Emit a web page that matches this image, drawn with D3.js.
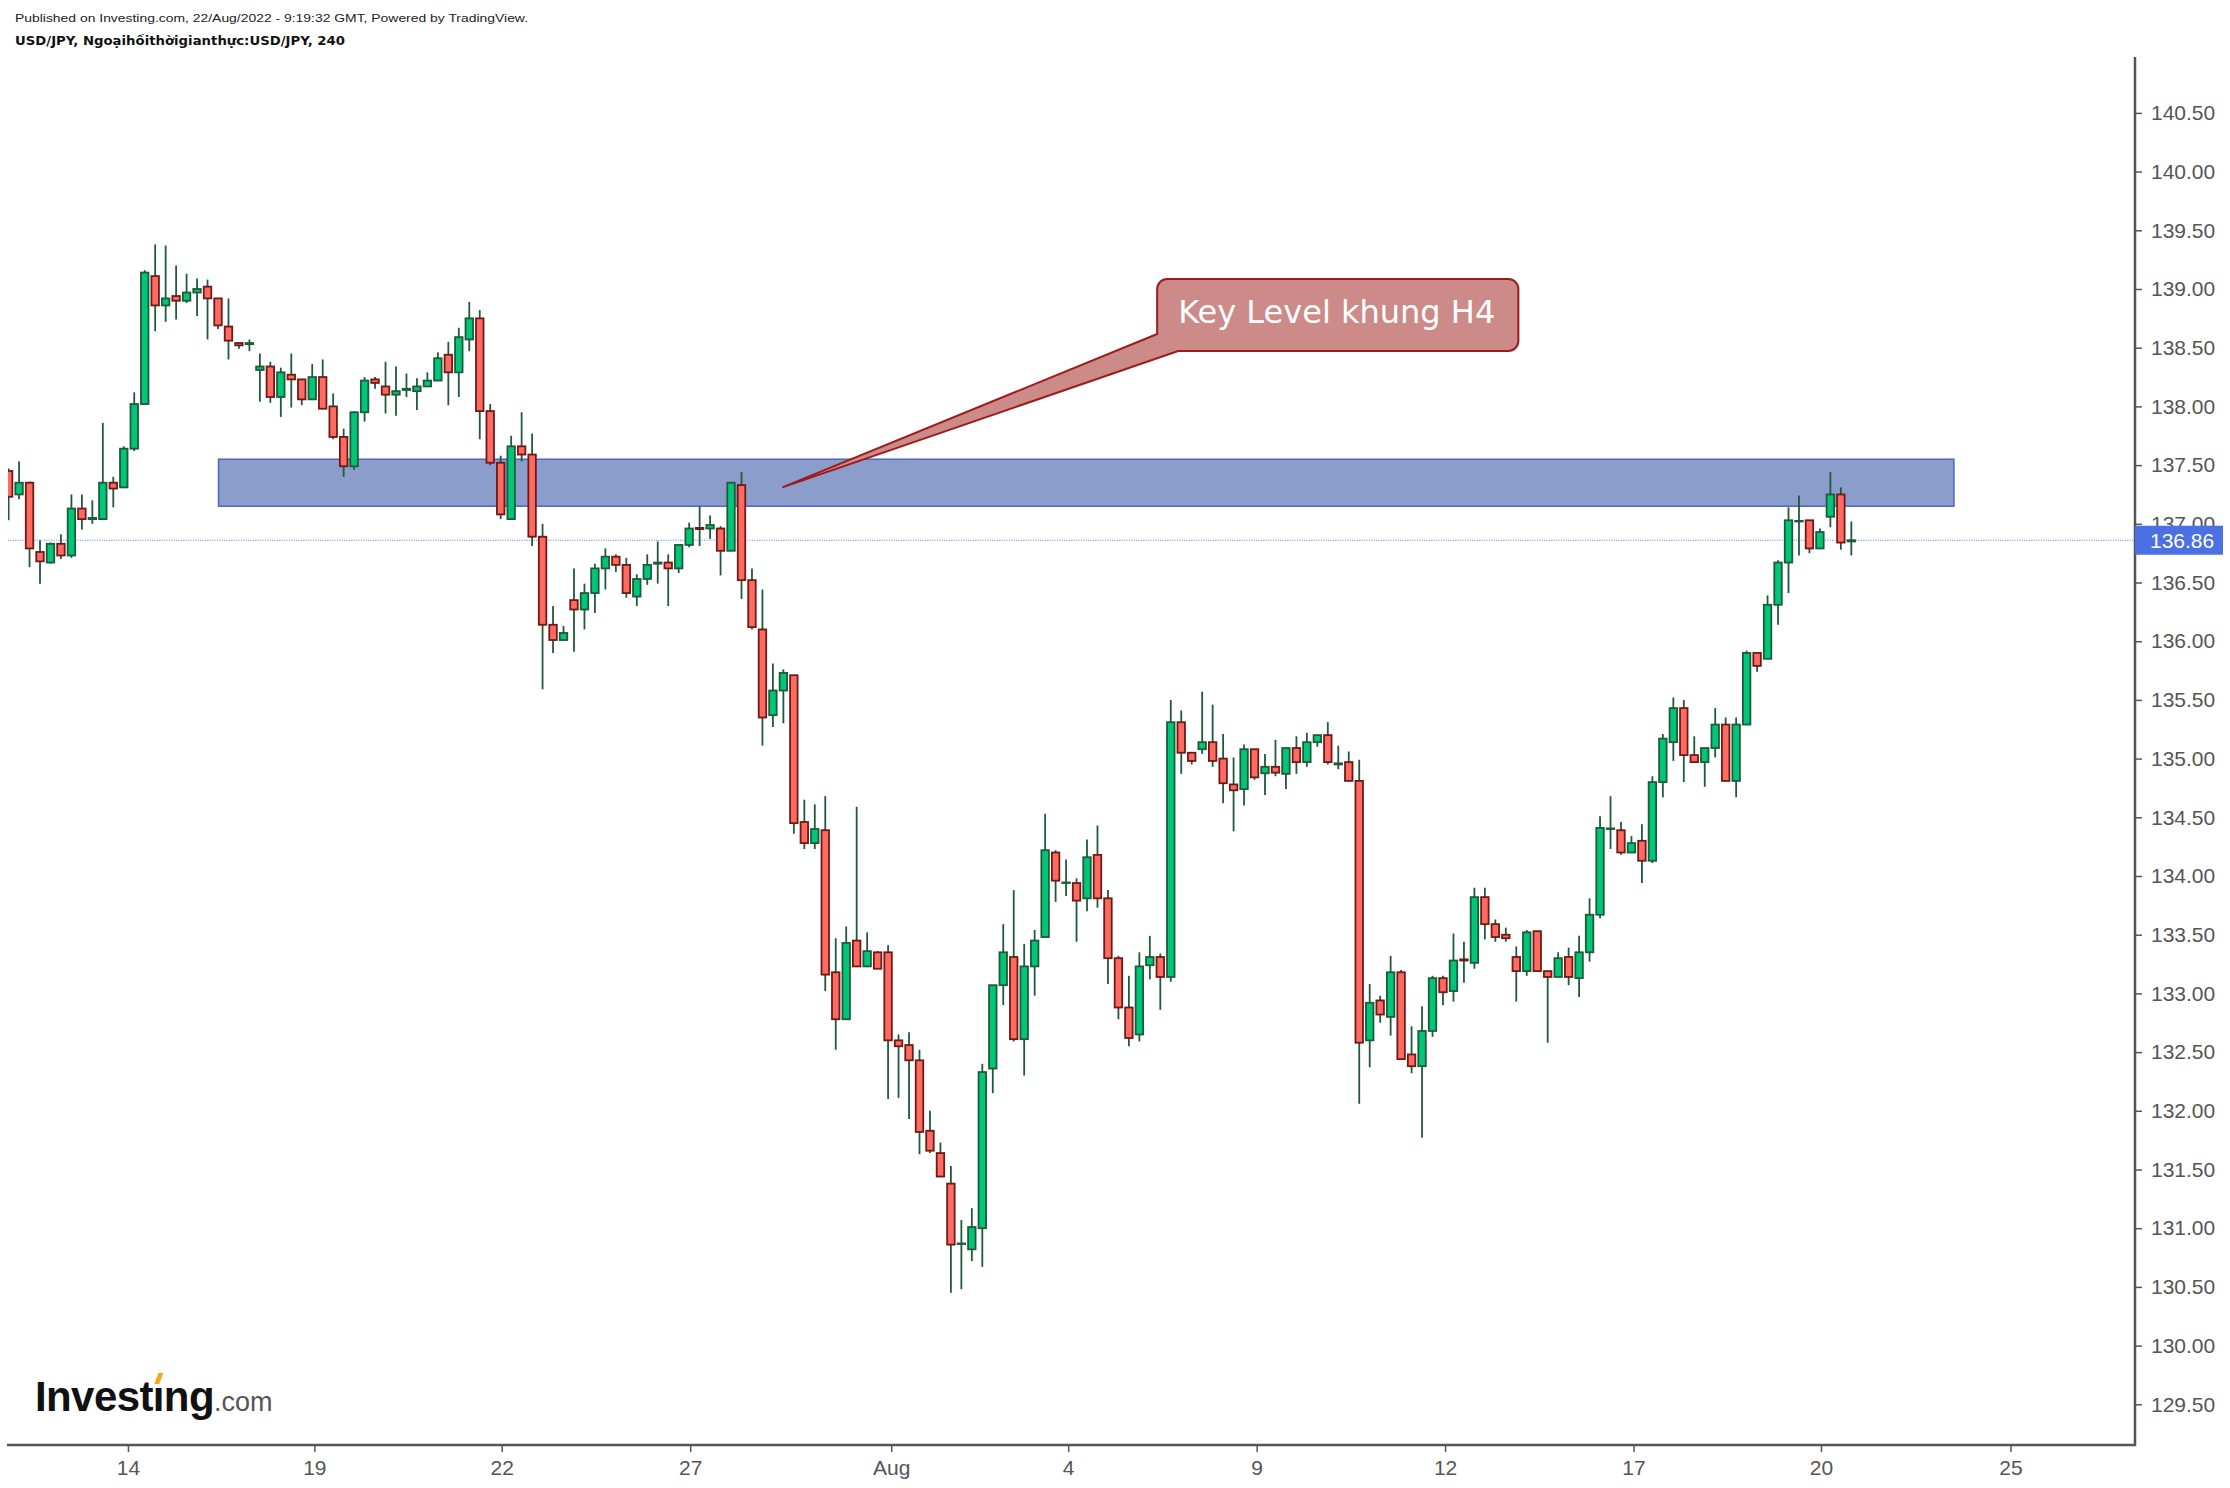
<!DOCTYPE html>
<html><head><meta charset="utf-8">
<script src="https://cdn.jsdelivr.net/npm/d3@7"></script>
<style>html,body{margin:0;padding:0;background:#fff;} svg{display:block}</style>
</head><body>
<svg id="chart" width="2230" height="1488"></svg>
<script>
// ---- DATA (USD/JPY, 4h bars) ----
const opens = [137.45,137.25,137.35,136.76,136.67,136.83,136.73,137.13,137.04,137.04,
137.35,137.31,137.64,138.02,139.11,138.86,138.94,138.90,138.97,139.02,
138.92,138.68,138.54,138.53,138.31,138.34,138.08,138.27,138.23,138.06,
138.25,138.00,137.74,137.49,137.95,138.23,138.17,138.10,138.14,138.13,
138.17,138.22,138.44,138.29,138.57,138.75,137.96,137.52,137.04,137.66,
137.59,136.89,136.14,136.01,136.35,136.27,136.41,136.62,136.72,136.65,
136.38,136.53,136.66,136.67,136.62,136.82,136.965,136.96,136.96,136.77,
137.33,136.52,136.10,135.37,135.58,135.71,134.46,134.28,134.39,133.18,
132.78,133.45,133.23,133.35,133.35,132.60,132.56,132.43,131.83,131.64,
131.38,130.865,130.82,131.00,132.36,133.07,133.31,132.61,133.23,133.48,
134.20,133.94,133.94,133.81,134.18,133.81,133.30,132.88,132.65,133.24,
133.31,133.14,135.31,135.05,135.08,135.14,135.00,134.78,134.74,135.08,
134.875,134.93,134.87,135.09,134.97,135.14,135.20,134.95,134.97,134.81,
132.60,132.94,132.80,133.18,132.48,132.38,132.68,133.13,133.02,133.29,
133.26,133.82,133.59,133.50,133.31,133.19,133.53,133.19,133.14,133.31,
133.13,133.35,133.67,134.40,134.39,134.20,134.30,134.13,134.80,135.14,
135.43,135.03,134.97,135.09,135.29,134.81,135.29,135.90,135.85,136.31,
136.67,137.02,137.03,136.79,137.06,137.25,136.85];
const highs = [137.47,137.53,137.36,136.86,136.84,136.91,137.25,137.25,137.20,137.86,
137.40,137.66,138.12,139.16,139.38,139.37,139.20,139.13,139.09,139.08,
138.92,138.92,138.54,138.57,138.45,138.38,138.33,138.45,138.23,138.36,
138.40,138.11,137.81,137.96,138.25,138.25,138.38,138.34,138.28,138.24,
138.29,138.46,138.55,138.67,138.89,138.82,138.02,137.58,137.75,137.95,
137.77,137.00,136.30,136.13,136.62,136.49,136.66,136.79,136.74,136.71,
136.57,136.74,136.85,136.74,136.82,137.01,137.15,137.07,136.98,137.35,
137.44,136.62,136.44,135.81,135.76,135.71,134.65,134.61,134.68,133.47,
133.57,134.59,133.52,133.36,133.41,132.65,132.67,132.52,132.00,131.73,
131.53,131.07,131.17,132.40,133.07,133.59,133.88,133.42,133.54,134.53,
134.22,134.14,133.98,134.31,134.43,133.88,133.32,133.15,133.35,133.49,
133.34,135.50,135.41,135.05,135.57,135.46,135.21,135.01,135.12,135.08,
135.04,135.16,135.09,135.19,135.22,135.20,135.31,135.11,135.06,134.99,
133.08,132.98,133.32,133.20,132.72,132.89,133.15,133.15,133.51,133.44,
133.90,133.90,133.63,133.56,133.40,133.54,133.53,133.19,133.35,133.39,
133.49,133.81,134.51,134.68,134.46,134.34,134.44,134.85,135.21,135.52,
135.50,135.19,135.09,135.43,135.35,135.35,135.92,135.90,136.39,136.69,
137.14,137.24,137.03,136.96,137.44,137.31,137.02];
const lows = [137.03,137.21,136.63,136.49,136.66,136.70,136.71,136.95,137.00,137.04,
137.14,137.31,137.62,138.02,138.64,138.72,138.74,138.88,138.77,138.57,
138.66,138.40,138.49,138.47,138.04,138.03,137.91,137.99,138.01,138.06,
137.98,137.72,137.40,137.46,137.87,138.15,137.94,137.92,138.08,137.97,
138.17,138.22,138.01,138.08,138.47,137.72,137.50,137.04,137.04,137.53,
136.81,135.59,135.90,136.01,135.91,136.10,136.24,136.44,136.59,136.37,
136.30,136.48,136.49,136.30,136.58,136.80,136.81,136.87,136.56,136.77,
136.36,136.10,135.11,135.27,135.30,134.36,134.23,134.23,133.02,132.52,
132.78,133.23,133.23,133.21,132.10,132.11,131.93,131.63,131.64,131.44,
130.45,130.48,130.72,130.67,132.15,132.90,132.59,132.30,132.98,133.48,
133.78,133.83,133.44,133.70,133.73,133.08,132.78,132.55,132.59,133.12,
132.86,133.10,134.87,134.95,135.04,134.93,134.62,134.38,134.60,134.82,
134.69,134.85,134.74,134.87,134.93,135.10,134.95,134.91,134.81,132.06,
132.37,132.75,132.64,132.44,132.32,131.77,132.63,132.90,132.93,133.09,
133.21,133.46,133.44,133.44,132.93,133.15,133.19,132.58,133.14,133.07,
132.97,133.27,133.64,134.23,134.18,134.20,133.94,134.11,134.67,134.98,
134.80,134.97,134.76,135.01,134.81,134.67,135.29,135.74,135.85,136.14,
136.41,136.73,136.75,136.79,136.97,136.78,136.73];
const closes = [137.23,137.35,136.79,136.68,136.83,136.73,137.13,137.04,137.05,137.35,
137.30,137.64,138.02,139.14,138.86,138.92,138.90,138.97,139.00,138.92,
138.69,138.56,138.52,138.54,138.34,138.08,138.29,138.23,138.06,138.25,
137.98,137.74,137.49,137.95,138.22,138.20,138.10,138.13,138.15,138.17,
138.22,138.41,138.29,138.59,138.75,137.96,137.52,137.08,137.66,137.59,
136.89,136.14,136.01,136.07,136.27,136.41,136.62,136.72,136.65,136.41,
136.53,136.65,136.67,136.62,136.82,136.96,136.955,136.99,136.77,137.35,
136.52,136.12,135.35,135.58,135.73,134.45,134.28,134.40,133.16,132.78,
133.43,133.23,133.36,133.21,132.60,132.55,132.43,131.82,131.66,131.44,
130.86,130.87,131.01,132.33,133.07,133.35,132.61,133.23,133.45,134.22,
133.96,133.945,133.79,134.16,133.81,133.30,132.88,132.62,133.23,133.31,
133.14,135.31,135.05,134.98,135.14,134.98,134.79,134.73,135.08,134.84,
134.93,134.88,135.09,134.97,135.14,135.20,134.97,134.96,134.81,132.58,
132.92,132.82,133.18,132.44,132.38,132.68,133.13,133.01,133.28,133.28,
133.82,133.59,133.48,133.47,133.19,133.52,133.19,133.14,133.30,133.14,
133.35,133.67,134.41,134.405,134.20,134.28,134.13,134.80,135.17,135.43,
135.03,134.97,135.09,135.29,134.81,135.29,135.90,135.79,136.31,136.67,
137.03,137.025,136.79,136.93,137.25,136.84,136.86];

// x-axis tick positions (in bar index units) and labels
const xTickIndex = [11.4, 29.2, 47.1, 65.1, 84.3, 101.2, 119.2, 137.2, 155.2, 173.1, 191.2];
const xTickLabels = ["14","19","22","27","Aug","4","9","12","17","20","25"];
// y-axis tick values
const yTickValues = [129.5,130,130.5,131,131.5,132,132.5,133,133.5,134,134.5,135,135.5,136,136.5,137,137.5,138,138.5,139,139.5,140,140.5];
const lastPrice = 136.86;
// key level zone (bar index range and price range)
const zoneIdx = [20.05, 185.8];
const zonePrice = [137.15, 137.55];
// annotation
const noteText = "Key Level khung H4";
const noteTip = [73.9, 137.31];          // bar index, price
const noteBoxIdx = [109.7, 144.2];
const noteBoxPrice = [139.085, 138.472];

// ---- CHART ----
const svg = d3.select("#chart");
svg.append("rect").attr("width",2230).attr("height",1488).attr("fill","#fff");

const x = d3.scaleLinear().domain([0, 200]).range([8.6, 8.6 + 200*10.47]);
const y = d3.scaleLinear().domain([129.5, 140.5]).range([1404.3, 112.9]);

const plotL = 8, plotR = 2135, plotT = 57, plotB = 1445;

svg.append("defs").append("clipPath").attr("id","clip")
  .append("rect").attr("x",plotL).attr("y",plotT).attr("width",plotR-plotL-1).attr("height",plotB-plotT-1);

const plot = svg.append("g").attr("clip-path","url(#clip)");

// zone
plot.append("rect")
  .attr("x", x(zoneIdx[0])).attr("width", x(zoneIdx[1]) - x(zoneIdx[0]))
  .attr("y", y(zonePrice[1])).attr("height", y(zonePrice[0]) - y(zonePrice[1]))
  .attr("fill", "#8b9dcb").attr("stroke", "#4e66bd").attr("stroke-width", 1.5);

// last price line
plot.append("line")
  .attr("x1", plotL).attr("x2", plotR).attr("y1", y(lastPrice)).attr("y2", y(lastPrice))
  .attr("stroke", "#6f8ff2").attr("stroke-width", 1.2).attr("stroke-dasharray", "1.2,1.2");

const data = opens.map((o,i)=>({i, o, h:highs[i], l:lows[i], c:closes[i]}));
const green = "#00c777", greenEdge = "#1f5a3b", red = "#ff6b61", redEdge = "#6e1a17";

plot.selectAll(".wick").data(data).join("line").attr("class","wick")
  .attr("x1", d=>x(d.i)).attr("x2", d=>x(d.i))
  .attr("y1", d=>y(d.h)).attr("y2", d=>y(d.l))
  .attr("stroke", greenEdge).attr("stroke-width", 1.8);

plot.selectAll(".body").data(data).join("rect").attr("class","body")
  .attr("x", d=>x(d.i)-3.75).attr("width", 7.5)
  .attr("y", d=>y(Math.max(d.o,d.c)))
  .attr("height", d=>Math.max(0.4, Math.abs(y(d.o)-y(d.c))))
  .attr("fill", d=>d.c>=d.o ? green : red)
  .attr("stroke", d=>d.c>=d.o ? greenEdge : redEdge)
  .attr("stroke-width", 1.8);

// axes
const axisColor = "#555";
const fontAxis = "'Liberation Sans', Arial, sans-serif";

const yAxis = d3.axisRight(y).tickValues(yTickValues).tickFormat(d3.format(".2f"))
  .tickSize(7).tickPadding(9).tickSizeOuter(0);
const gy = svg.append("g").attr("transform", `translate(${plotR},0)`).call(yAxis);
gy.select(".domain").remove();
gy.selectAll(".tick line").attr("stroke", axisColor).attr("stroke-width", 1.5);
gy.selectAll(".tick text").attr("fill", axisColor).attr("font-size", 21).attr("font-family", fontAxis);

const xAxis = d3.axisBottom(x).tickValues(xTickIndex).tickFormat((d,i)=>xTickLabels[i])
  .tickSize(7).tickPadding(8).tickSizeOuter(0);
const gx = svg.append("g").attr("transform", `translate(0,${plotB})`).call(xAxis);
gx.select(".domain").remove();
gx.selectAll(".tick line").attr("stroke", axisColor).attr("stroke-width", 1.5);
gx.selectAll(".tick text").attr("fill", axisColor).attr("font-size", 21).attr("font-family", fontAxis);

svg.append("line").attr("x1", plotR).attr("x2", plotR).attr("y1", plotT).attr("y2", plotB+1)
  .attr("stroke", axisColor).attr("stroke-width", 2.5);
svg.append("line").attr("x1", 7).attr("x2", plotR+1).attr("y1", plotB).attr("y2", plotB)
  .attr("stroke", axisColor).attr("stroke-width", 2.5);

// last price label
const lp = svg.append("g");
lp.append("rect").attr("x", plotR).attr("y", y(lastPrice)-14.5).attr("width", 88).attr("height", 29)
  .attr("fill", "#4a70e4");
lp.append("text").attr("x", plotR+15).attr("y", y(lastPrice)).attr("dy","0.35em")
  .attr("fill","#fff").attr("font-size",21).attr("font-family",fontAxis)
  .text(d3.format(".2f")(lastPrice));

// annotation callout
const bx0 = x(noteBoxIdx[0]), bx1 = x(noteBoxIdx[1]);
const by0 = y(noteBoxPrice[0]), by1 = y(noteBoxPrice[1]);
const r = 10;
const tx = x(noteTip[0]), ty = y(noteTip[1]);
const calloutPath = `M${bx0+r},${by0} H${bx1-r} A${r},${r} 0 0 1 ${bx1},${by0+r} V${by1-r} A${r},${r} 0 0 1 ${bx1-r},${by1} H${bx0+21} L${tx},${ty} L${bx0},${by1-17} V${by0+r} A${r},${r} 0 0 1 ${bx0+r},${by0} Z`;
svg.append("path").attr("d", calloutPath).attr("fill", "#cc8a89").attr("stroke", "#9c1b1b").attr("stroke-width", 2);
svg.append("text").attr("x", bx0+21).attr("y", by0+44)
  .attr("fill", "#fff").attr("font-size", 32).attr("font-family", "'DejaVu Sans', Verdana, sans-serif")
  .text(noteText);

// header
svg.append("text").attr("x", 15).attr("y", 21.5).attr("font-size", 11.5)
  .attr("font-family", "'Liberation Sans', Arial, sans-serif").attr("fill", "#222")
  .attr("textLength", 513).attr("lengthAdjust", "spacingAndGlyphs")
  .text("Published on Investing.com, 22/Aug/2022 - 9:19:32 GMT, Powered by TradingView.");
svg.append("text").attr("x", 15).attr("y", 44.5).attr("font-size", 12.5).attr("font-weight", "bold")
  .attr("font-family", "'DejaVu Sans', Verdana, sans-serif").attr("fill", "#111")
  .attr("textLength", 330).attr("lengthAdjust", "spacingAndGlyphs")
  .text("USD/JPY, Ngoạihốithờigianthực:USD/JPY, 240");

// logo
const logo = svg.append("text").attr("x", 35).attr("y", 1411)
  .attr("font-family", "'Liberation Sans', Arial, sans-serif");
logo.append("tspan").attr("font-size", 42).attr("font-weight", "bold").attr("fill", "#111")
  .attr("letter-spacing", -0.6).text("Investıng");
logo.append("tspan").attr("font-size", 27).attr("fill", "#555").text(".com");
try {
  const node = logo.node();
  const ext = node.getExtentOfChar(6);
  const cx = ext.x + ext.width/2;
  const top = 1373;
  svg.append("path")
    .attr("d", `M${cx-4},${top+11} L${cx+1},${top+11} L${cx+5},${top} L${cx},${top} Z`)
    .attr("fill", "#f5a623");
} catch(e) {}
</script>
</body></html>
